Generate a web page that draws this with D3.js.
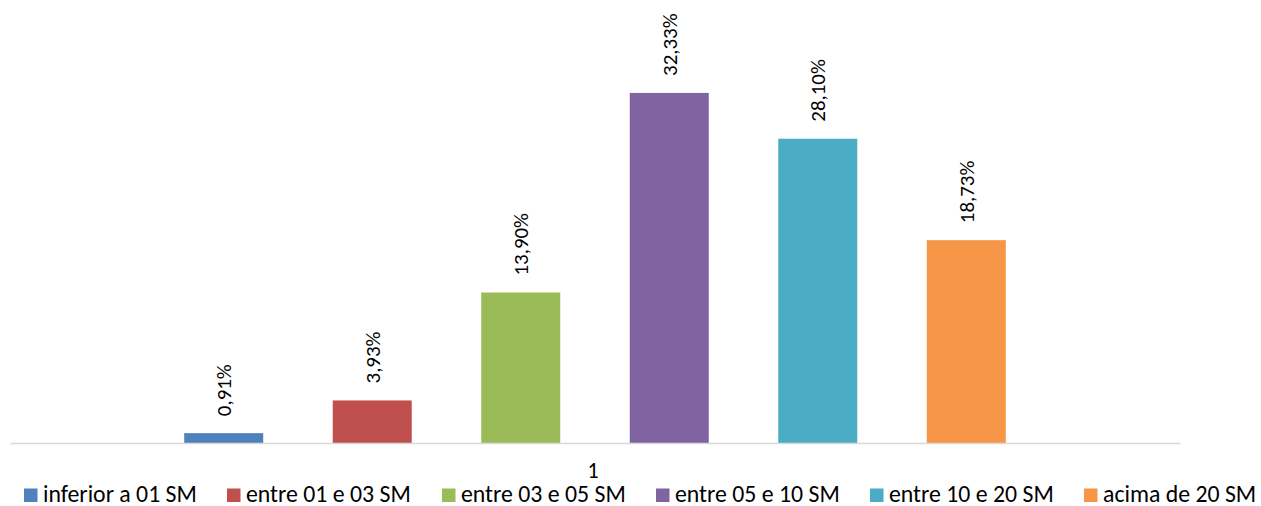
<!DOCTYPE html>
<html><head><meta charset="utf-8">
<script src="https://cdn.jsdelivr.net/npm/d3@7/dist/d3.min.js"></script>
<style>body{margin:0;background:#fff}svg{display:block}text{font-family:Carlito,Calibri,Lato,sans-serif;fill:#000}</style>
</head><body>
<svg id="c" width="1261" height="506"></svg>
<script>
const categories = ["1"];
const seriesNames = ["inferior a 01 SM","entre 01 e 03 SM","entre 03 e 05 SM","entre 05 e 10 SM","entre 10 e 20 SM","acima de 20 SM"];
const seriesValues = [0.91, 3.93, 13.90, 32.33, 28.10, 18.73];
const seriesColors = ["#4f81bd","#c0504d","#9bbb59","#8064a2","#4bacc6","#f79646"];
const yDomain = [0, 35];

(function(){
const svg = d3.select("#c");
const plotLeft = 10, plotRight = 1180, plotBase = 443, plotTop = 64;
const y = d3.scaleLinear().domain(yDomain).range([plotBase, plotTop]);
const x0 = d3.scaleBand().domain(categories).range([plotLeft, plotRight]).padding(0);
const x1 = d3.scaleBand().domain(seriesNames).range([0, x0.bandwidth()]).paddingInner(0.468).paddingOuter(1.173);

function fitSize(str, target, start) {
  const t = svg.append("text").attr("font-size", start).text(str);
  const w = t.node().getComputedTextLength();
  t.remove();
  return start * target / w;
}
const legendFS = fitSize("inferior a 01 SM", 154, 20);
const labelFS = fitSize("0,91%", 52, 20);

const data = seriesNames.map((n, i) => ({name: n, value: seriesValues[i], color: seriesColors[i]}));

const g = svg.append("g").attr("transform", `translate(${x0("1")},0)`);
g.selectAll("rect").data(data).join("rect")
  .attr("x", d => x1(d.name)).attr("width", x1.bandwidth())
  .attr("y", d => y(d.value)).attr("height", d => y(0) - y(d.value))
  .attr("fill", d => d.color);

g.selectAll("text.lbl").data(data).join("text").attr("class", "lbl")
  .attr("font-size", labelFS)
  .attr("transform", d => `translate(${x1(d.name) + x1.bandwidth()/2 + labelFS*0.35},${y(d.value) - 17}) rotate(-90)`)
  .attr("text-anchor", "start")
  .text(d => d.value.toFixed(2).replace(".", ",") + "%");

const axis = svg.append("g").attr("transform", `translate(0,${plotBase})`)
  .call(d3.axisBottom(x0).tickSize(0).tickPadding(0));
axis.select(".domain").attr("stroke", "#d9d9d9").attr("stroke-width", 1.5);
axis.attr("font-family", null).attr("font-size", null);
axis.selectAll(".tick text").attr("font-size", legendFS * 0.92)
  .attr("dy", null).attr("y", 34.5).attr("x", -2).attr("fill", "#000");

const legendX = [24, 227, 442, 656, 870, 1084];
const lg = svg.append("g").selectAll("g").data(data).join("g")
  .attr("transform", (d, i) => `translate(${legendX[i]},0)`);
lg.append("rect").attr("x", 0).attr("y", 488.5).attr("width", 13.5).attr("height", 13.5).attr("fill", d => d.color);
lg.append("text").attr("x", 19).attr("y", 501.5).attr("font-size", legendFS).text(d => d.name);
})();
</script>
</body></html>
